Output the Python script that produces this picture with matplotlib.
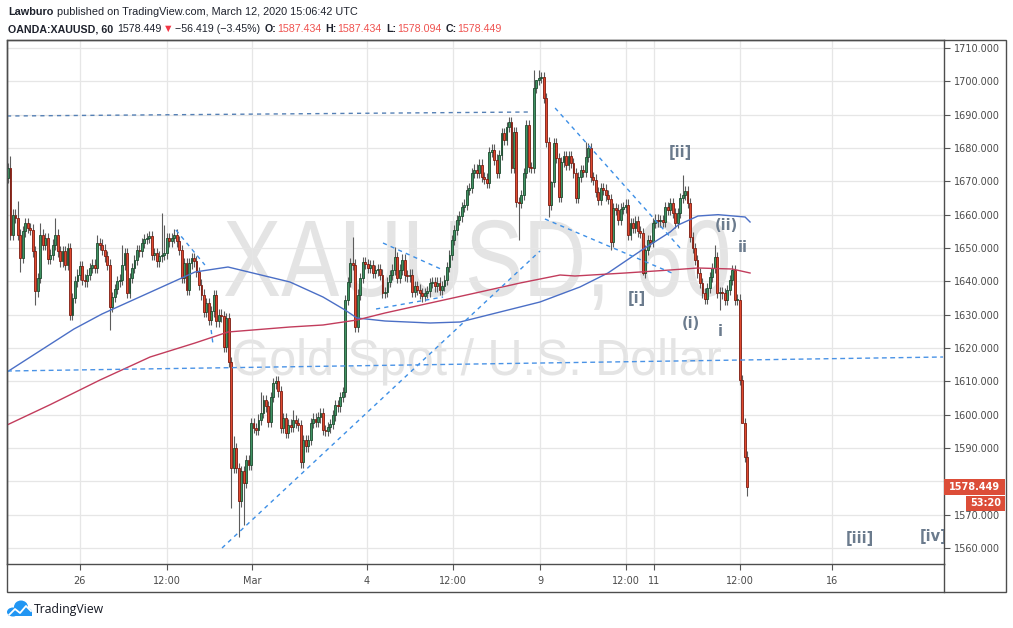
import numpy as np
import matplotlib
matplotlib.use('Agg')
import matplotlib.pyplot as plt
from matplotlib.patches import Rectangle, Ellipse, PathPatch
from matplotlib.lines import Line2D
from matplotlib.textpath import TextPath
from matplotlib.font_manager import FontProperties
from matplotlib.transforms import Affine2D

W, H = 1013, 628

# OANDA:XAUUSD, 60 -- hourly closes, left to right
first_open = 1671.0
closes_feb24 = [1674, 1654, 1660, 1659, 1654, 1647, 1655, 1657.5, 1656, 1655.5,
                1649, 1637, 1641, 1654, 1651, 1653, 1646.7, 1648, 1651, 1654,
                1649, 1646, 1649, 1645, 1650, 1630, 1635, 1640, 1642, 1644.5,
                1640.5, 1640, 1642, 1644, 1645, 1644, 1651.5, 1651]
closes_feb26 = [1649.5, 1647.5, 1645, 1632.3, 1635.3, 1637.7, 1640, 1640.5, 1645, 1648.5,
                1636.5, 1641, 1644, 1646.4, 1649.4, 1649, 1651.5, 1652.7, 1653, 1653.5,
                1648, 1648.5, 1646, 1647.5, 1648, 1648.4, 1653, 1652, 1653, 1654,
                1652, 1649.4, 1641, 1645.5, 1637.4, 1645.4, 1647, 1646]
closes_feb28 = [1642.8, 1639, 1636, 1630.8, 1633.5, 1628.4, 1631, 1635.9, 1628, 1630,
                1629.5, 1620.3, 1629, 1615.8, 1584, 1590, 1584, 1574, 1583, 1579.6,
                1586.4, 1585, 1597.5, 1596, 1595.5, 1598.5, 1600.5, 1604.4, 1602.5, 1597.8,
                1605.3, 1609.4, 1610, 1607, 1596, 1599, 1594.5, 1597]
closes_mar02 = [1596.3, 1598.4, 1597.5, 1596.8, 1585.7, 1592.4, 1590.5, 1592.4, 1597.5, 1598.8,
                1597.8, 1599.2, 1600.5, 1595.4, 1595.2, 1596.2, 1597.2, 1599.8, 1602.9, 1602.5,
                1605.3, 1606.8, 1634.4, 1639.8, 1645.5, 1645, 1626.3, 1636, 1641, 1645.8,
                1645.2, 1644, 1644.8, 1642.5, 1643.3, 1643.6, 1642, 1636.5]
closes_mar04 = [1636.8, 1639.8, 1641.9, 1643.5, 1647.3, 1641, 1643.5, 1646.5, 1641.8, 1641.5,
                1642, 1636.8, 1638.5, 1637.5, 1636.4, 1635.7, 1636.5, 1637, 1639.5, 1639.8,
                1638.5, 1639.6, 1637.4, 1638.6, 1640.4, 1644.3, 1647.9, 1652.4, 1655.4, 1658.4,
                1659.5, 1662.3, 1663, 1667.4, 1668, 1672.5, 1673.5, 1672.5, 1675]
closes_mar06 = [1671.3, 1670.8, 1669.5, 1678.8, 1679.5, 1676.5, 1672.5, 1677.9, 1684.5, 1682.4,
                1686.3, 1687.8, 1674, 1684.8, 1663.8, 1663.5, 1665.9, 1672.5, 1686.9, 1674.3,
                1674, 1698, 1700.4, 1701, 1701.3, 1695, 1681.8, 1662.9, 1669.8, 1681.5,
                1677, 1665.3, 1675.8, 1677.5, 1675, 1677.5, 1675.5, 1672.5]
closes_mar10 = [1665, 1671.3, 1673.4, 1672.8, 1677.3, 1680, 1671.3, 1670.5, 1666.8, 1664.4,
                1668, 1667.5, 1665.8, 1664.7, 1651.8, 1662, 1661.5, 1658.4, 1661.8, 1662.2,
                1663, 1653.9, 1657.5, 1656, 1658, 1655, 1654.5, 1642.5, 1649.4, 1652.4,
                1651.8, 1657.5, 1658.5, 1658, 1658.4, 1657.9, 1662.3, 1661.4]
closes_mar11 = [1663.5, 1660.5, 1657.5, 1660.5, 1665, 1666, 1667, 1663.5, 1653.3, 1650,
                1646.4, 1642.5, 1639.5, 1636.5, 1634.7, 1638, 1641.3, 1644, 1647.3, 1636.5,
                1636.8, 1636.4, 1634.4, 1637.4, 1640.4, 1643.4, 1634.4, 1634.5, 1610.4, 1597.5,
                1587.434, 1578.449]

closes = (closes_feb24 + closes_feb26 + closes_feb28 + closes_mar02 +
          closes_mar04 + closes_mar06 + closes_mar10 + closes_mar11)

# long wicks that stand out (bar index: price)
high_spikes = {1: 1677.5, 4: 1664, 13: 1657.5, 19: 1659, 36: 1654, 46: 1651,
               62: 1660.5, 63: 1657, 91: 1593.5, 102: 1606.8, 107: 1611, 115: 1601.4,
               139: 1653.3, 156: 1650.4, 212: 1703.4, 213: 1700.5, 214: 1703.5,
               219: 1670, 233: 1681.8, 272: 1671.9, 285: 1650.9}
low_spikes = {5: 1642.8, 11: 1633, 25: 1628.4, 41: 1625.4, 90: 1572, 93: 1563.3,
              95: 1567, 118: 1584, 167: 1633.8, 206: 1652.4, 218: 1659.3, 243: 1649.4,
              256: 1641.9, 287: 1631.4, 296: 1606.5, 298: 1575.5}

# moving averages (bar index, price)
ma_blue_x = [-0.4, 26.6, 37.9, 75.4, 88.7, 113.7, 127, 135.9, 140.7, 152, 170.2, 182.3,
             198.4, 214.5, 230.6, 241.9, 255.6, 267, 270.2, 278.2, 286.3, 297.2, 299.2]
ma_blue_y = [1612.8, 1625.7, 1630.2, 1642.8, 1644.3, 1639.8, 1635.3, 1631.4, 1629, 1628.1,
             1627.5, 1627.8, 1630.8, 1633.8, 1638.3, 1642.5, 1649.4, 1654.8, 1656.9, 1659.6,
             1660, 1659.3, 1657.8]
ma_red_x = [-0.4, 17, 37.1, 57.3, 75.4, 88.7, 113.7, 127, 140.7, 152, 190.3, 206.5,
            222.6, 228.6, 248.8, 267, 278.2, 292, 299.2]
ma_red_y = [1596.9, 1603, 1610.4, 1617.3, 1621.5, 1624.8, 1626.3, 1626.9, 1628.4, 1630.5,
            1636.8, 1639.5, 1641.9, 1641.6, 1642.5, 1643.4, 1644, 1643.7, 1642.5]

# dashed trend lines: (x0, x1), (y0, y1)
trend_lines = [
    ((86.3, 214.5), (1560.0, 1649.1)),
    ((67.7, 79.4), (1655.4, 1644.9)),
    ((81.9, 82.7), (1625.4, 1620.9)),
    ((151.2, 175.4), (1651.5, 1643.4)),
    ((148.4, 175.4), (1631.7, 1635.3)),
    ((220.6, 271.0), (1692.0, 1650.0)),
    ((216.5, 267.7), (1658.7, 1642.5)),
]
top_line = ((-0.4, 210.5), (1689.6, 1690.8))
long_line = ((-0.4, 377.0), (1613.1, 1617.3))

wave_labels = [('[ii]', 271, 1678.8), ('(ii)', 289.5, 1656.9), ('ii', 296.4, 1650.0),
               ('[i]', 253.6, 1635.0), ('(i)', 275.4, 1627.2), ('i', 287.0, 1625.1),
               ('[iii]', 343.5, 1563.0)]

x_tick_pos = [29, 64, 98.4, 144.8, 179.4, 214.5, 249.2, 260.5, 295.2, 332.3]
x_tick_lbl = ['26', '12:00', 'Mar', '4', '12:00', '9', '12:00', '11', '12:00', '16']
y_ticks = np.arange(1560, 1711, 10)

last_price = 1578.449

# ---- figure ----
fig = plt.figure(figsize=(W / 100, H / 100), dpi=100)
fig.patch.set_facecolor('white')
ax = fig.add_axes([7 / W, 1 - 564 / H, (944 - 7) / W, (564 - 40) / H])
ax.set_facecolor('none')

c = np.array(closes, dtype=float)
o = np.array([first_open] + closes[:-1], dtype=float)
n = len(c)
idx = np.arange(n)
hi = np.maximum(o, c) + 1.6
lo = np.minimum(o, c) - 1.6
for k, v in high_spikes.items():
    hi[k] = v
for k, v in low_spikes.items():
    lo[k] = v

up = c >= o
body_lo = np.minimum(o, c)
body_h = np.maximum(np.abs(c - o), 0.3)
ax.vlines(idx, lo, hi, color='#5c5c5c', lw=0.8, zorder=3)
ax.bar(idx[up], body_h[up], bottom=body_lo[up], width=0.75, color='#3f9363',
       edgecolor='#1c4a2e', lw=0.6, zorder=4)
ax.bar(idx[~up], body_h[~up], bottom=body_lo[~up], width=0.75, color='#e0492f',
       edgecolor='#7c1b10', lw=0.6, zorder=4)

ax.plot(ma_blue_x, ma_blue_y, color='#4b6fc6', lw=1.0, zorder=5)
ax.plot(ma_red_x, ma_red_y, color='#c23c5c', lw=1.0, zorder=5)

for (xs, ys) in trend_lines:
    ax.plot(xs, ys, color='#3d8fe6', lw=1.0, ls=(0, (3, 3)), zorder=5)
ax.plot(*top_line, color='#5580b5', lw=1.0, ls=(0, (3, 3)), zorder=5)
ax.plot(*long_line, color='#4a93e6', lw=1.0, ls=(0, (3.5, 2.5)), zorder=5)

for s, x, y in wave_labels:
    ax.text(x, y, s, color='#6b7b8d', fontsize=10.5, fontweight='bold',
            ha='center', va='center', zorder=6)
ax.text(367.5, 1563.6, '[iv]', color='#6b7b8d', fontsize=10.5, fontweight='bold',
        ha='left', va='center', zorder=6, clip_on=True)

# watermark
def watermark(s, x0, x1, top, base):
    fp = FontProperties(family='Liberation Sans')
    tp = TextPath((0, 0), s, size=100, prop=fp)
    ext = tp.get_extents()
    cap = TextPath((0, 0), 'X', size=100, prop=fp).get_extents().y1
    sx = (x1 - x0) / ext.width
    sy = (base - top) / cap
    tr = (Affine2D().translate(-ext.x0, 0).scale(sx / W, sy / H)
          .translate(x0 / W, 1 - base / H) + fig.transFigure)
    ax.add_patch(PathPatch(tp, transform=tr, fc='#e4e4e4', ec='none', zorder=0.3))

watermark('XAUUSD, 60', 225, 728, 221, 296)
watermark('Gold Spot / U.S. Dollar', 234, 721, 340, 375)

ax.set_xlim(-0.4, 377.4)
ax.set_ylim(1555.2, 1712.4)
ax.set_xticks(x_tick_pos)
ax.set_xticklabels(x_tick_lbl)
ax.set_yticks(y_ticks)
# the 1580 level sits under the last-price tag, so its label is hidden
ax.set_yticklabels(['' if v == 1580 else '%.3f' % v for v in y_ticks])
ax.yaxis.tick_right()
ax.tick_params(axis='y', length=4, width=0.8, color='#555555', labelcolor='#4a4a4a',
               labelsize=7, pad=3)
ax.tick_params(axis='x', length=4, width=0.8, color='#555555', labelcolor='#4a4a4a',
               labelsize=7, pad=5)
for lab in ax.get_xticklabels() + ax.get_yticklabels():
    lab.set_family('DejaVu Sans')
ax.grid(True, color='#e6e6e6', lw=0.9)
ax.set_axisbelow(True)
for sp in ax.spines.values():
    sp.set_color('#4d4d4d')
    sp.set_linewidth(1.0)

# last price boxes
yt = ax.get_yaxis_transform()
ax.add_patch(Rectangle((1.0, last_price - 2.4), 61 / 937, 4.8, transform=yt,
                       fc='#dc4d38', ec='none', clip_on=False, zorder=7))
ax.text(1.0 + 30 / 937, last_price, '%.3f' % last_price, transform=yt, color='white',
        fontsize=7, fontweight='bold', ha='center', va='center', clip_on=False, zorder=8)
ax.add_patch(Rectangle((1.0 + 22 / 937, 1571.1), 39 / 937, 4.5, transform=yt,
                       fc='#dc4d38', ec='none', clip_on=False, zorder=7))
ax.text(1.0 + 41.5 / 937, 1573.35, '53:20', transform=yt, color='white',
        fontsize=7, fontweight='bold', ha='center', va='center', clip_on=False, zorder=8)

# outer frame
fig.add_artist(Rectangle((7 / W, 1 - 592 / H), (1006 - 7) / W, (592 - 40) / H,
                         transform=fig.transFigure, fill=False, ec='#4d4d4d', lw=1.0))
fig.add_artist(Line2D([944 / W, 944 / W], [1 - 564 / H, 1 - 592 / H],
                      transform=fig.transFigure, color='#4d4d4d', lw=1.0))

# header
hdr_font = ['Liberation Sans', 'DejaVu Sans']
dark = '#1e222d'
red = '#ef5350'
renderer = fig.canvas.get_renderer()

def draw_runs(y, parts, size=7.8):
    x = 8
    for s, col, wt, gap in parts:
        t = fig.text(x / W, 1 - y / H, s, color=col, fontsize=size, fontweight=wt,
                     va='center', ha='left', family=hdr_font)
        x += t.get_window_extent(renderer=renderer).width + gap

draw_runs(12, [('Lawburo', dark, 'bold', 3.5),
               ('published on TradingView.com, March 12, 2020 15:06:42 UTC', dark, 'normal', 0)])
draw_runs(29, [('OANDA:XAUUSD, 60', dark, 'bold', 4),
               ('1578.449', dark, 'normal', 1),
               ('\u25bc', '#f23645', 'normal', 2),
               ('\u221256.419 (\u22123.45%)', dark, 'normal', 4),
               ('O:', dark, 'bold', 1), ('1587.434', red, 'normal', 4),
               ('H:', dark, 'bold', 1), ('1587.434', red, 'normal', 4),
               ('L:', dark, 'bold', 1), ('1578.094', red, 'normal', 4),
               ('C:', dark, 'bold', 1), ('1578.449', red, 'normal', 0)], size=7.7)

# TradingView logo
def px(x, y):
    return (x / W, 1 - y / H)

for cx, cy, w, h in [(13, 612, 12, 9), (21, 607, 14, 13), (27, 612, 10, 8)]:
    fig.add_artist(Ellipse(px(cx, cy), w / W, h / H, transform=fig.transFigure,
                           fc='#2196f3', ec='none'))
fig.add_artist(Rectangle(px(8, 616), 24 / W, 4 / H, transform=fig.transFigure,
                         fc='#2196f3', ec='none'))
zx = [9, 15, 20, 26, 31]
zy = [615, 609, 613, 606, 611]
fig.add_artist(Line2D([v / W for v in zx], [1 - v / H for v in zy],
                      transform=fig.transFigure, color='white', lw=1.3))
fig.text(34 / W, 1 - 609 / H, 'TradingView', color='#131722', fontsize=8.8,
         va='center', ha='left', family=['Open Sans', 'DejaVu Sans'])

fig.savefig('out.png', dpi=100)
